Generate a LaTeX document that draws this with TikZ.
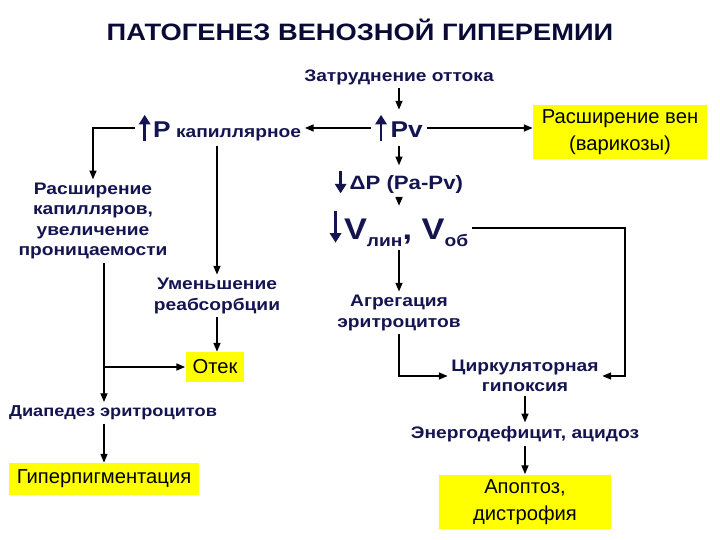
\documentclass[tikz,border=0pt]{standalone}
\usepackage{fontspec}
\setmainfont{Liberation Sans}[BoldFeatures={FakeStretch=1.15}]
\usetikzlibrary{arrows.meta,positioning}

\definecolor{navy}{RGB}{20,20,80}
\definecolor{titel}{RGB}{10,10,55}
\definecolor{gelb}{RGB}{255,255,0}

\tikzset{
	txt/.style={text=navy, font=\bfseries\fontsize{9.5}{11.5}\selectfont, align=center, inner sep=2pt},
	kasten/.style={fill=gelb, text=black, font=\fontsize{11.5}{15.5}\selectfont, align=center, inner sep=2pt},
	pfeil/.style={-{Triangle[length=5pt,width=4pt]}, line width=0.8pt},
}

% dicke Pfeile im Text
\newcommand{\hoch}[1]{\tikz[baseline=2pt]\draw[navy, line width=1.6pt, -{Triangle[length=5.5pt,width=6.5pt]}] (0,0) -- (0,#1);}
\newcommand{\runter}[1]{\tikz[baseline=2pt]\draw[navy, line width=1.6pt, -{Triangle[length=5.5pt,width=6.5pt]}] (0,#1) -- (0,0);}

\begin{document}
\begin{tikzpicture}[x=0.02cm, y=-0.02cm]

	\useasboundingbox (0,0) rectangle (720,540);

	% Titel
	\node[text=titel, font=\bfseries\fontsize{13.5}{15}\selectfont] (titel) at (360,30) {ПАТОГЕНЕЗ ВЕНОЗНОЙ ГИПЕРЕМИИ};

	% rechte Kette
	\node[txt] (zatr) at (399,77) {Затруднение оттока};
	\node[txt, font=\bfseries\fontsize{13}{15}\selectfont] (pv) at (399,128) {\hoch{15pt}\,Pv};
	\node[txt, font=\bfseries\fontsize{11}{13}\selectfont] (dp) at (399,182) {\runter{13pt}\,ΔP (Pa-Pv)};
	\node[txt] (vlin) at (399,228) {\runter{18pt}\,{\fontsize{17}{19}\selectfont V}\raisebox{-4pt}{лин}{\fontsize{17}{19}\selectfont , V}\raisebox{-4pt}{об}};
	\node[txt] (agr) at (399,313) {Агрегация\\эритроцитов};
	\node[txt] (zirk) at (525,376) {Циркуляторная\\гипоксия};
	\node[txt] (energ) at (525,434) {Энергодефицит, ацидоз};
	\node[kasten, minimum width=3.44cm, minimum height=1.1cm] (apop) at (525,502) {Апоптоз,\\дистрофия};
	\node[kasten, minimum width=3.48cm, minimum height=1.1cm] (venen) at (620,132) {Расширение вен\\(варикозы)};

	% linke Kette
	\node[txt] (pkap) at (220,128) {\hoch{15pt}\,{\fontsize{13}{15}\selectfont P} капиллярное};
	\node[txt] (kapil) at (93,221) {Расширение\\капилляров,\\увеличение\\проницаемости};
	\node[txt] (umen) at (217,296) {Уменьшение\\реабсорбции};
	\node[kasten, minimum width=1.18cm, minimum height=0.6cm] (otek) at (215,367) {Отек};
	\node[txt, font=\bfseries\fontsize{9}{11}\selectfont] (diap) at (113,413) {Диапедез эритроцитов};
	\node[kasten, minimum width=3.8cm, minimum height=0.64cm] (hyper) at (104,479) {Гиперпигментация};

	\coordinate (ecke) at (625,228);

	% Verbindungen
	\draw[pfeil] (zatr) -- (pv);
	\draw[pfeil] (pv) -- (pkap);
	\draw[pfeil] (pv) -- (pv -| venen.west);
	\draw[pfeil] (pv) -- (dp);
	\draw[pfeil] (dp) -- (vlin);
	\draw[pfeil] (vlin) -- (agr);
	\draw[pfeil] (vlin.east) -- (ecke) |- (zirk.east);
	\draw[pfeil] (agr.south) |- (zirk.west);
	\draw[pfeil] (zirk) -- (energ);
	\draw[pfeil] (energ) -- (apop);

	\draw[pfeil] (pkap.west) -| (kapil.north);
	\draw[pfeil] (pkap.south -| umen.north) -- (umen.north);
	\draw[pfeil] (umen.south) -- (umen.south |- otek.north);
	\draw[pfeil] (kapil.south -| hyper.north) -- (diap.north -| hyper.north);
	\draw[pfeil] (hyper.north |- otek.west) -- (otek.west);
	\draw[pfeil] (diap.south -| hyper.north) -- (hyper.north);

\end{tikzpicture}
\end{document}
